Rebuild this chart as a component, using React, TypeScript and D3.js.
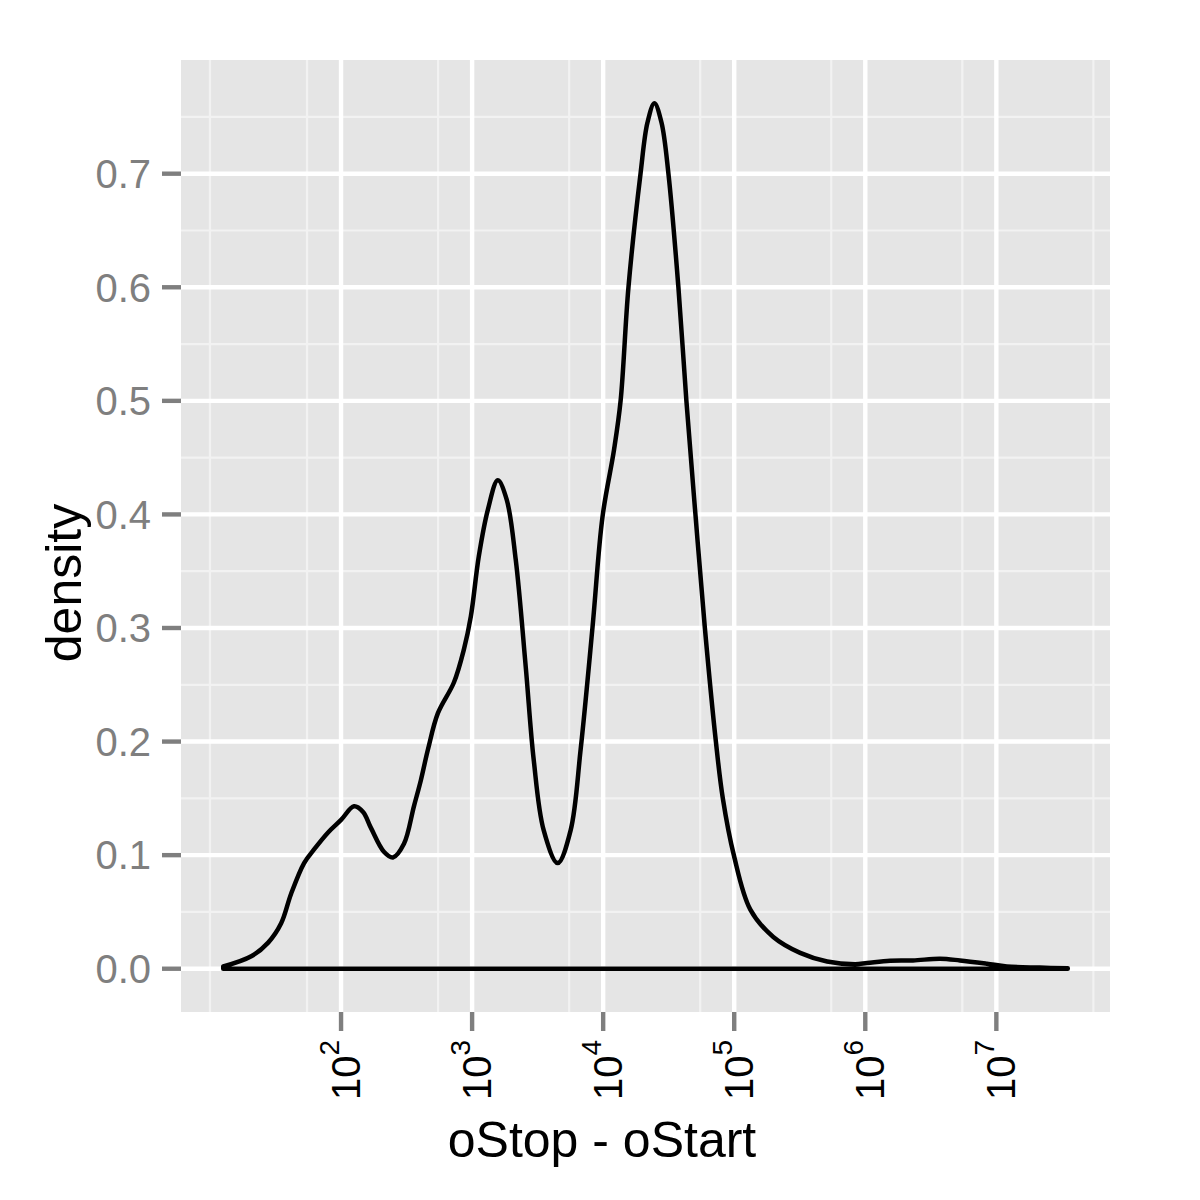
import React from 'react';
import * as d3 from 'd3';

// density of oStop - oStart (x as log10 of the length)
const lengthLog10 = [
  1.101, 1.315, 1.444, 1.543, 1.619, 1.718, 1.794, 1.901, 2.0, 2.099,
  2.168, 2.228, 2.327, 2.396, 2.48, 2.556, 2.609, 2.663, 2.739, 2.861,
  2.937, 2.99, 3.051, 3.12, 3.196, 3.264, 3.333, 3.409, 3.47, 3.546,
  3.653, 3.752, 3.828, 3.919, 3.995, 4.083, 4.133, 4.193, 4.285, 4.338,
  4.391, 4.445, 4.498, 4.574, 4.635, 4.704, 4.776, 4.86, 4.913,
  4.997, 5.123, 5.298, 5.503, 5.709, 5.922, 6.014, 6.189, 6.364, 6.57,
  6.722, 6.928, 7.08, 7.331, 7.545,
];
const density = [
  0.002, 0.011, 0.023, 0.04, 0.066, 0.093, 0.105, 0.12, 0.131, 0.143,
  0.138, 0.124, 0.103, 0.098, 0.11, 0.143, 0.166, 0.193, 0.225, 0.252,
  0.281, 0.31, 0.363, 0.404, 0.43, 0.413, 0.36, 0.266, 0.184, 0.122,
  0.093, 0.122, 0.193, 0.301, 0.398, 0.457, 0.5, 0.6, 0.7, 0.745,
  0.762, 0.745, 0.7, 0.6, 0.5, 0.4, 0.3, 0.2, 0.15,
  0.1, 0.052, 0.028, 0.014, 0.0064, 0.004, 0.005, 0.007, 0.0073, 0.0088,
  0.0073, 0.0044, 0.002, 0.001, 0.0004,
];

const xBreakExp = [2, 3, 4, 5, 6, 7];
const xMinorBreaks = [10, 55, 550, 5500, 55000, 550000, 5500000, 55000000];
const yBreaks = [0, 0.1, 0.2, 0.3, 0.4, 0.5, 0.6, 0.7];
const yMinorBreaks = [0.05, 0.15, 0.25, 0.35, 0.45, 0.55, 0.65, 0.75];

const xTitle = 'oStop - oStart';
const yTitle = 'density';

const font = '"Liberation Sans", Arial, Helvetica, sans-serif';

const App = () => {
  const left = 181, right = 1110, top = 60, bottom = 1012;

  const pts = lengthLog10.map((lx, i) => ({ x: Math.pow(10, lx), y: density[i] }));

  // ggplot style 5% expansion on the transformed scale
  const [lo, hi] = d3.extent(lengthLog10) as [number, number];
  const padX = (hi - lo) * 0.05;
  const xScale = d3.scaleLog()
    .domain([Math.pow(10, lo - padX), Math.pow(10, hi + padX)])
    .range([left, right]);

  const yMax = d3.max(density) as number;
  const yScale = d3.scaleLinear()
    .domain([-yMax * 0.05, yMax * 1.05])
    .range([bottom, top]);

  const area = d3.area<{ x: number; y: number }>()
    .x(d => xScale(d.x))
    .y0(yScale(0))
    .y1(d => yScale(d.y))
    .curve(d3.curveCatmullRom.alpha(0.5));

  const grey50 = '#7F7F7F';

  return (
    <svg width={1200} height={1200} style={{ position: 'absolute', left: 0, top: 0 }}
      fontFamily={font}>
      <rect x={0} y={0} width={1200} height={1200} fill="white" />
      <rect x={left} y={top} width={right - left} height={bottom - top} fill="#E5E5E5" />

      {/* minor grid */}
      {xMinorBreaks.map(v => (
        <line key={'xm' + v} x1={xScale(v)} x2={xScale(v)} y1={top} y2={bottom}
          stroke="#F2F2F2" strokeWidth={2.2} />
      ))}
      {yMinorBreaks.map(v => (
        <line key={'ym' + v} x1={left} x2={right} y1={yScale(v)} y2={yScale(v)}
          stroke="#F2F2F2" strokeWidth={2.2} />
      ))}

      {/* major grid */}
      {xBreakExp.map(e => (
        <line key={'xM' + e} x1={xScale(Math.pow(10, e))} x2={xScale(Math.pow(10, e))}
          y1={top} y2={bottom} stroke="white" strokeWidth={4.4} />
      ))}
      {yBreaks.map(v => (
        <line key={'yM' + v} x1={left} x2={right} y1={yScale(v)} y2={yScale(v)}
          stroke="white" strokeWidth={4.4} />
      ))}

      <path d={area(pts) || ''} fill="none" stroke="black" strokeWidth={4.5}
        strokeLinejoin="round" />

      {/* y axis */}
      {yBreaks.map(v => (
        <g key={'yt' + v}>
          <line x1={left - 19} x2={left} y1={yScale(v)} y2={yScale(v)}
            stroke={grey50} strokeWidth={4.4} />
          <text x={151} y={yScale(v) + 14.3} textAnchor="end" fontSize={40} fill={grey50}>
            {v.toFixed(1)}
          </text>
        </g>
      ))}

      {/* x axis */}
      {xBreakExp.map(e => {
        const px = xScale(Math.pow(10, e));
        return (
          <g key={'xt' + e}>
            <line x1={px} x2={px} y1={bottom} y2={bottom + 19}
              stroke={grey50} strokeWidth={4.4} />
            <text transform={`translate(${px},1040) rotate(-90)`} y={19}
              textAnchor="end" fontSize={40} fill="black">
              10<tspan fontSize={28} dy={-21}>{e}</tspan>
            </text>
          </g>
        );
      })}

      <text x={602} y={1157} textAnchor="middle" fontSize={50} fill="black">{xTitle}</text>
      <text transform="translate(81,583) rotate(-90)" textAnchor="middle" fontSize={50}
        fill="black">{yTitle}</text>
    </svg>
  );
};

export default App;
